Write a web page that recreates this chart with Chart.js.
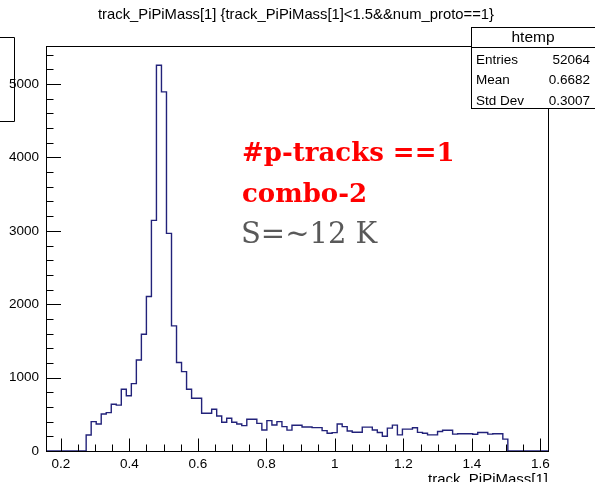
<!DOCTYPE html>
<html>
<head>
<meta charset="utf-8">
<script src="https://cdn.jsdelivr.net/npm/chart.js@4/dist/chart.umd.min.js"></script>
<style>
  html, body { margin: 0; padding: 0; background: #fff; }
</style>
</head>
<body>
<canvas id="massChart" width="595" height="482"></canvas>
<script>
// htemp binning: 100 bins between the limits ROOT picked
const nBins = 100;
const xLow = 0.1569;
const xHigh = 1.6220;

// bin contents, bin 0 .. 99
const counts = [
  0, 0, 0, 0, 0, 0, 0, 0,
  218, 400, 368, 505, 523, 638, 625, 841, 752, 918, 1241, 1591, 2105,
  3142, 5256, 4893, 2965, 1705,
  1205, 1082, 841, 718, 718,
  514, 514, 569, 477, 391, 446, 391, 368, 346, 432, 432, 377, 286, 414, 355, 400,
  332, 285, 350, 350, 327, 327, 318, 318, 277, 241, 250, 368, 332, 273, 255, 255,
  325, 325, 286, 252, 200, 312, 352, 220, 298, 298, 316, 254, 242, 220, 220, 265,
  282, 282, 230, 236, 236, 236, 228, 252, 252, 230, 236, 236, 162,
  0, 0, 0, 0, 0, 0, 0, 0
];

const xTicks = [0.2, 0.4, 0.6, 0.8, 1, 1.2, 1.4, 1.6];
const yTicks = [0, 1000, 2000, 3000, 4000, 5000];

const titleText = 'track_PiPiMass[1] {track_PiPiMass[1]<1.5&&num_proto==1}';
const xTitle = 'track_PiPiMass[1]';
const statsName = 'htemp';
const statsRows = [['Entries', '52064'], ['Mean', '0.6682'], ['Std Dev', '0.3007']];
const noteLines = ['#p-tracks ==1', 'combo-2', 'S=~12 K'];

const yMax = 1.05 * Math.max(...counts);
const binWidth = (xHigh - xLow) / nBins;

// one point per bin low edge, plus the closing edge
const points = counts.map((c, i) => ({ x: xLow + i * binWidth, y: c }));
points.push({ x: xHigh, y: 0 });

const SANS = '"Liberation Sans", Arial, Helvetica, sans-serif';
const SERIF = '"DejaVu Serif", Cambria, serif';

// frame, inward ticks, stats box and the text around the pad
const rootPad = {
  id: 'rootPad',
  beforeDraw(chart) {
    const ctx = chart.ctx;
    ctx.save();
    ctx.fillStyle = '#fff';
    ctx.fillRect(0, 0, chart.width, chart.height);
    ctx.restore();
  },
  afterDraw(chart) {
    const ctx = chart.ctx;
    const { left, right, top, bottom } = chart.chartArea;
    const xs = chart.scales.x;
    const ys = chart.scales.y;
    ctx.save();
    ctx.strokeStyle = '#000';
    ctx.lineWidth = 1;

    // frame
    ctx.strokeRect(Math.round(left) + 0.5, Math.round(top) + 0.5,
      Math.round(right - left), Math.round(bottom - top));

    // x ticks, major every 0.2, minor every 0.05
    ctx.beginPath();
    for (let i = 0; i <= 28; i++) {
      const v = 0.2 + i * 0.05;
      const px = Math.round(xs.getPixelForValue(v)) + 0.5;
      const len = i % 4 === 0 ? 12.5 : 6.5;
      ctx.moveTo(px, bottom);
      ctx.lineTo(px, bottom - len);
    }
    // y ticks, major every 1000, minor every 200
    for (let v = 0; v <= yMax; v += 200) {
      const py = Math.round(ys.getPixelForValue(v)) + 0.5;
      const len = v % 1000 === 0 ? 15 : 7.5;
      ctx.moveTo(left, py);
      ctx.lineTo(left + len, py);
    }
    ctx.stroke();

    // title
    ctx.fillStyle = '#000';
    ctx.font = '14.8px ' + SANS;
    ctx.textAlign = 'center';
    ctx.textBaseline = 'middle';
    ctx.fillText(titleText, 296, 15);

    // x axis title, cut at the bottom of the canvas
    ctx.textAlign = 'right';
    ctx.textBaseline = 'alphabetic';
    ctx.font = '15px ' + SANS;
    ctx.fillText(xTitle, right, 484);

    // edge of the neighbouring box on the left
    ctx.beginPath();
    ctx.moveTo(0, 37.5);
    ctx.lineTo(14.5, 37.5);
    ctx.lineTo(14.5, 121.5);
    ctx.lineTo(0, 121.5);
    ctx.stroke();

    // stats box
    const bx = 471.5, by = 27.5, bw = 124, bh = 81;
    ctx.fillStyle = '#fff';
    ctx.fillRect(bx, by, bw, bh);
    ctx.strokeRect(bx, by, bw, bh);
    ctx.beginPath();
    ctx.moveTo(bx, 47.5);
    ctx.lineTo(bx + bw, 47.5);
    ctx.stroke();
    ctx.fillStyle = '#000';
    ctx.font = '15.5px ' + SANS;
    ctx.textAlign = 'center';
    ctx.textBaseline = 'middle';
    ctx.fillText(statsName, 533, 38);
    ctx.font = '13.5px ' + SANS;
    statsRows.forEach(([name, val], i) => {
      const ry = 60 + i * 20.5;
      ctx.textAlign = 'left';
      ctx.fillText(name, 476, ry);
      ctx.textAlign = 'right';
      ctx.fillText(val, 590, ry);
    });

    // notes
    ctx.textAlign = 'left';
    ctx.textBaseline = 'alphabetic';
    ctx.fillStyle = '#ff0000';
    ctx.font = 'bold 26px ' + SERIF;
    ctx.fillText(noteLines[0], 242, 161);
    ctx.fillText(noteLines[1], 242, 202);
    ctx.fillStyle = '#595959';
    ctx.font = '29px ' + SERIF;
    ctx.fillText(noteLines[2], 241, 243);

    ctx.restore();
  }
};

new Chart(document.getElementById('massChart'), {
  type: 'line',
  data: {
    datasets: [{
      label: statsName,
      data: points,
      stepped: 'before',
      borderColor: '#22227a',
      borderWidth: 1.4,
      pointRadius: 0,
      fill: false,
      tension: 0
    }]
  },
  options: {
    responsive: false,
    animation: false,
    devicePixelRatio: 1,
    layout: { padding: { left: 0, top: 46, right: 47, bottom: 0 } },
    plugins: { legend: { display: false }, tooltip: { enabled: false } },
    scales: {
      x: {
        type: 'linear',
        min: xLow,
        max: xHigh,
        afterBuildTicks: axis => { axis.ticks = xTicks.map(v => ({ value: v })); },
        afterFit: axis => { axis.height = 31; },
        grid: { display: false, drawTicks: false },
        border: { display: false },
        ticks: {
          autoSkip: false,
          maxRotation: 0,
          padding: 5,
          color: '#000',
          font: { family: SANS, size: 13.5 },
          callback: v => String(v)
        }
      },
      y: {
        type: 'linear',
        min: 0,
        max: yMax,
        afterBuildTicks: axis => { axis.ticks = yTicks.map(v => ({ value: v })); },
        afterFit: axis => { axis.width = 46; },
        grid: { display: false, drawTicks: false },
        border: { display: false },
        ticks: {
          padding: 7,
          color: '#000',
          font: { family: SANS, size: 13.5 },
          callback: v => String(v)
        }
      }
    }
  },
  plugins: [rootPad]
});
</script>
</body>
</html>
